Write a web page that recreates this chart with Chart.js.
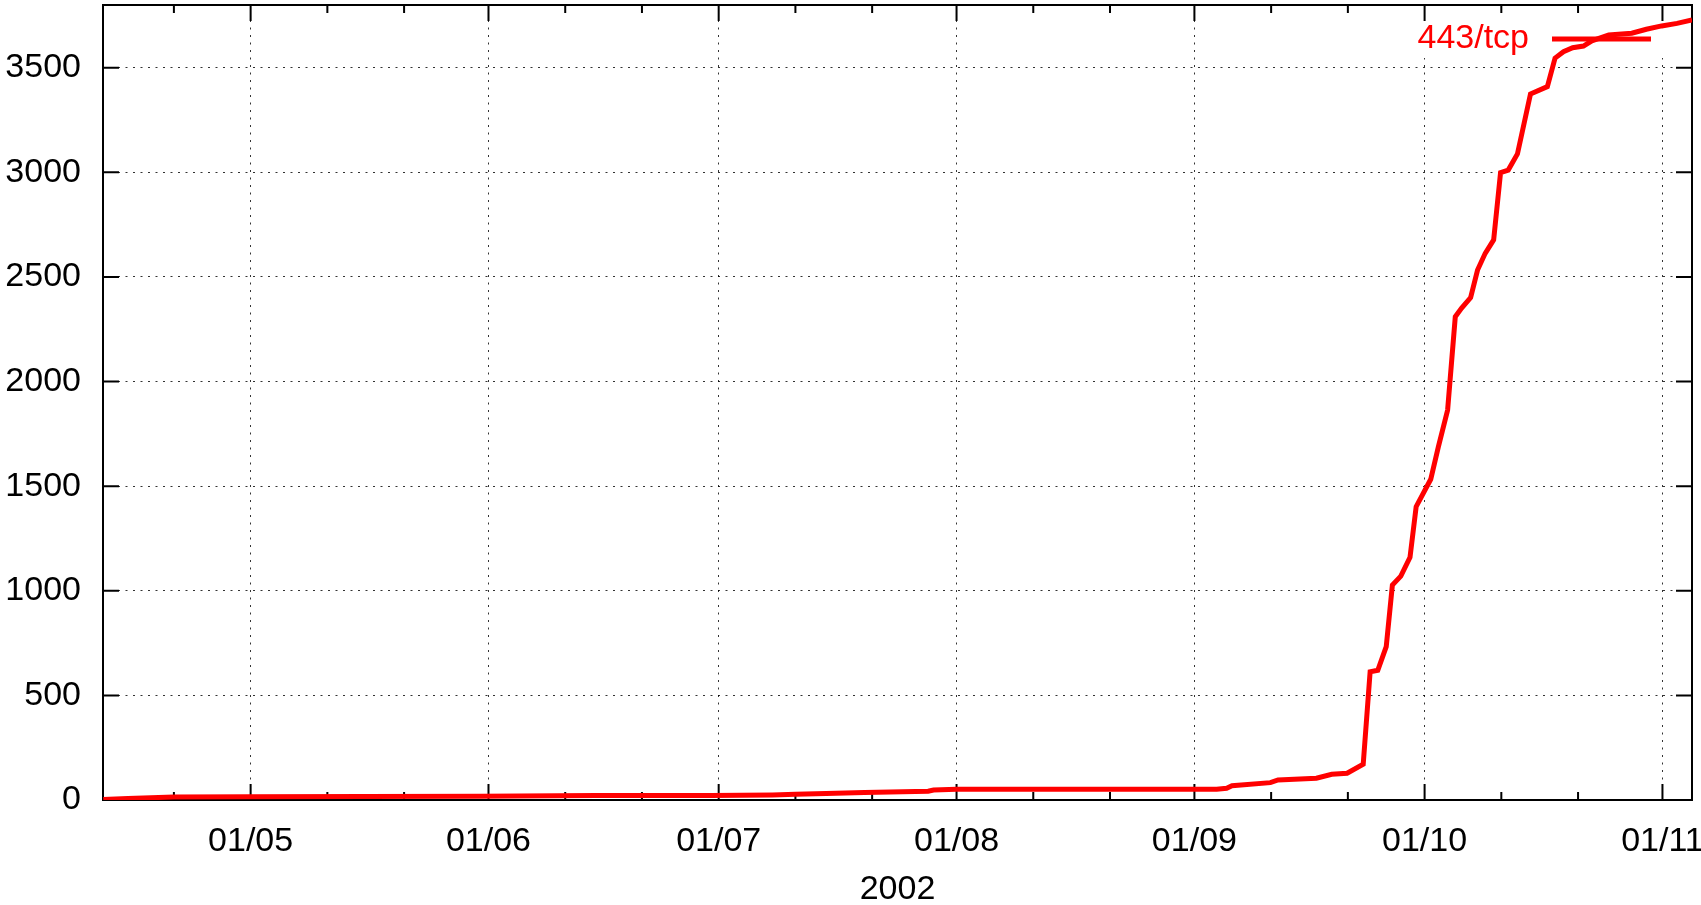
<!DOCTYPE html>
<html><head><meta charset="utf-8">
<script src="https://cdn.jsdelivr.net/npm/chart.js@4.4.0/dist/chart.umd.min.js"></script>
<style>html,body{margin:0;padding:0;background:#fff}canvas{display:block}</style>
</head><body>
<canvas id="c" width="1701" height="905"></canvas>
<script>
'use strict';

/* ═══════════ DATA ═══════════ */
/* x = day of year 2002 (1 Jan = 0), y = cumulative count */
var days=[100.8,104,107,110,120,135,150,165,180,188,191,195,200,205,208.3,209,212,225,240,245.9,
  247.2,247.9,252.9,253.9,258.9,260.9,262.9,265.0,265.9,266.9,268.0,268.8,269.9,271.1,271.9,273.8,
  274.8,276.0,277.0,277.8,279.0,279.9,280.9,282.0,282.9,283.9,285.1,286.8,289.0,290.0,291.1,292.3,
  293.7,294.8,297.0,300.0,301.9,303.9,305.9,307.85];
var hits=[2,7,11,14,16,17,18,21,22,24,27,31,36,40,42,48,51,51,51,51,
  56,68,83,96,104,123,128,171,613,620,733,1027,1070,1160,1402,1533,
  1689,1864,2310,2350,2401,2533,2613,2677,2999,3011,3088,3375,3410,3546,3577,3596,
  3604,3629,3657,3665,3684,3700,3712,3728];
var seriesLabel='443/tcp';
var yTicks=[0,500,1000,1500,2000,2500,3000,3500];
var xTickDays=[120,151,181,212,243,273,304];
var xTickLabels=['01/05','01/06','01/07','01/08','01/09','01/10','01/11'];
var xMinorDays=[110,130,140,161,171,191,201,222,232,253,263,283,293];
var xTitle='2002';

var F='"Liberation Sans", Arial, sans-serif',FS=34,RED='#ff0000',GRID='rgba(0,0,0,0.8)';

/* ═══════════ FRAME, TICKS, KEY ═══════════ */
function keyGeom(ch){var a=ch.chartArea,c=ch.ctx;c.save();c.font=FS+'px '+F;var tw=c.measureText(seriesLabel).width;c.restore();
  return{textRight:a.right-163,tw:tw,y:a.top+34,l0:a.right-140,l1:a.right-41}}
var frame={id:'frame',
  beforeDatasetsDraw:function(ch){var a=ch.chartArea,c=ch.ctx,sx=ch.scales.x,sy=ch.scales.y,k=keyGeom(ch);
    c.save();
    /* key box hides the grid */
    c.fillStyle='#fff';c.fillRect(k.textRight-k.tw-14,a.top,a.right-(k.textRight-k.tw-14),53);
    c.strokeStyle='#000';c.lineWidth=2;c.beginPath();
    function vt(d,len){var px=sx.getPixelForValue(d);c.moveTo(px,a.bottom);c.lineTo(px,a.bottom-len);c.moveTo(px,a.top);c.lineTo(px,a.top+len)}
    xTickDays.forEach(function(d){vt(d,16)});xMinorDays.forEach(function(d){vt(d,8)});
    yTicks.forEach(function(v){var py=sy.getPixelForValue(v);c.moveTo(a.left,py);c.lineTo(a.left+16,py);c.moveTo(a.right,py);c.lineTo(a.right-16,py)});
    c.stroke();
    c.strokeRect(a.left,a.top,a.right-a.left,a.bottom-a.top);
    c.restore()},
  afterDatasetsDraw:function(ch){var c=ch.ctx,k=keyGeom(ch);
    c.save();c.font=FS+'px '+F;c.fillStyle=RED;c.textAlign='right';c.textBaseline='middle';
    c.fillText(seriesLabel,k.textRight,k.y);
    c.strokeStyle=RED;c.lineWidth=5;c.beginPath();c.moveTo(k.l0,k.y);c.lineTo(k.l1,k.y);c.stroke();
    c.restore()}};

/* ═══════════ CHART ═══════════ */
new Chart(document.getElementById('c'),{type:'line',
  data:{datasets:[{label:seriesLabel,data:days.map(function(d,i){return{x:d,y:hits[i]}}),
    borderColor:RED,borderWidth:5,pointRadius:0,tension:0,fill:false}]},
  options:{responsive:false,animation:false,devicePixelRatio:1,
    layout:{padding:{top:5,right:9,left:0,bottom:0}},
    plugins:{legend:{display:false},tooltip:{enabled:false}},
    scales:{
      x:{type:'linear',min:100.76,max:307.85,
        afterBuildTicks:function(s){s.ticks=xTickDays.map(function(v){return{value:v}})},
        afterFit:function(s){s.height=105;s.paddingLeft=0;s.paddingRight=0},
        ticks:{padding:21,autoSkip:false,maxRotation:0,color:'#000',font:{family:F,size:FS},
          callback:function(v){var i=xTickDays.indexOf(v);return i<0?'':xTickLabels[i]}},
        grid:{drawTicks:false,color:GRID,lineWidth:1},
        border:{display:false,dash:[2,5.5]},
        title:{display:true,text:xTitle,color:'#000',font:{family:F,size:FS,lineHeight:0.9},padding:{top:0,bottom:0}}},
      y:{type:'linear',min:0,max:3800,
        afterBuildTicks:function(s){s.ticks=yTicks.map(function(v){return{value:v}})},
        afterFit:function(s){s.width=103;s.paddingTop=0;s.paddingBottom=0},
        ticks:{padding:22,color:'#000',font:{family:F,size:FS},callback:function(v){return String(v)}},
        grid:{drawTicks:false,color:GRID,lineWidth:1},
        border:{display:false,dash:[2,5.5]}}}},
  plugins:[frame]});
</script>
</body></html>
